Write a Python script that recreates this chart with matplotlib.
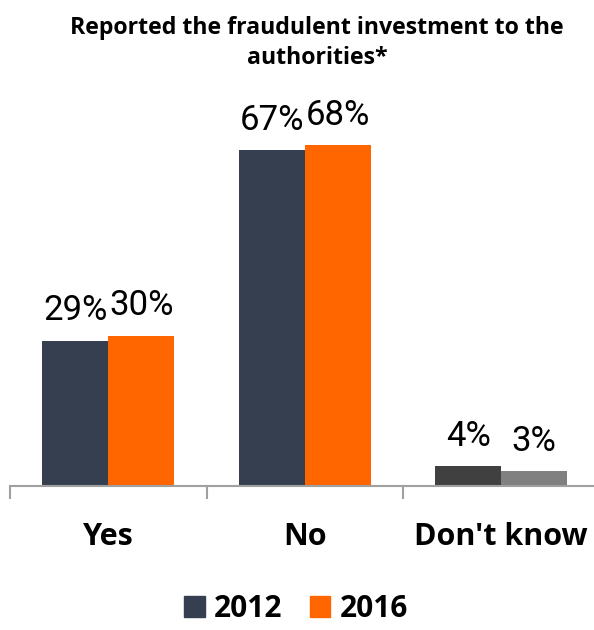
import matplotlib
matplotlib.use("Agg")
import matplotlib.pyplot as plt
from matplotlib.patches import Patch

categories = ["Yes", "No", "Don't know"]
values_2012 = [29, 67, 4]
values_2016 = [30, 68, 3]
series_names = ["2012", "2016"]
colors_2012 = ["#353F50", "#353F50", "#404040"]
colors_2016 = ["#FF6600", "#FF6600", "#808080"]
title = "Reported the fraudulent investment to the\nauthorities*"

plt.rcParams['font.family'] = ['Open Sans', 'DejaVu Sans']

fig = plt.figure(figsize=(5.94, 6.3), dpi=100)
W, H = 594, 630
ax = fig.add_axes([10 / W, (630 - 486) / H, 589.5 / W, 401 / H])

bw = 0.336
x = list(range(len(categories)))
b1 = ax.bar([i - bw / 2 for i in x], values_2012, width=bw, color=colors_2012, zorder=2)
b2 = ax.bar([i + bw / 2 for i in x], values_2016, width=bw, color=colors_2016, zorder=2)

for bars, vals in ((b1, values_2012), (b2, values_2016)):
    for r, v in zip(bars, vals):
        ax.annotate(f"{v}%", (r.get_x() + r.get_width() / 2, r.get_height()),
                    xytext=(0, 14.5), textcoords="offset points",
                    ha="center", va="baseline", fontsize=25, color="#000000",
                    family=["Roboto", "DejaVu Sans"])

ax.set_xlim(-0.5, 2.5)
ax.set_ylim(0, 80)
ax.set_yticks([])
for s in ("left", "right", "top"):
    ax.spines[s].set_visible(False)
ax.spines["bottom"].set_color("#A0A0A0")
ax.spines["bottom"].set_linewidth(1.5)
ax.set_xticks(x)
ax.set_xticklabels(categories, fontsize=22, fontweight="bold")
ax.tick_params(axis="x", which="major", length=0, pad=26)
ax.set_xticks([-0.5, 0.5, 1.5, 2.5], minor=True)
ax.tick_params(axis="x", which="minor", length=9, width=1.5, color="#A0A0A0")

fig.text(317 / W, 1 - 43 / H, title, ha="center", va="center", fontsize=16.7,
         fontweight="bold", linespacing=1.3)

handles = [Patch(color=colors_2012[0]), Patch(color=colors_2016[0])]
fig.legend(handles, series_names, loc="center", bbox_to_anchor=(296 / W, 1 - 609 / H),
           ncol=2, frameon=False, prop={"size": 21.5, "weight": "bold"},
           handlelength=0.7, handleheight=0.7, handletextpad=0.32, columnspacing=0.9,
           borderpad=0)

fig.savefig("out.png", dpi=100)
